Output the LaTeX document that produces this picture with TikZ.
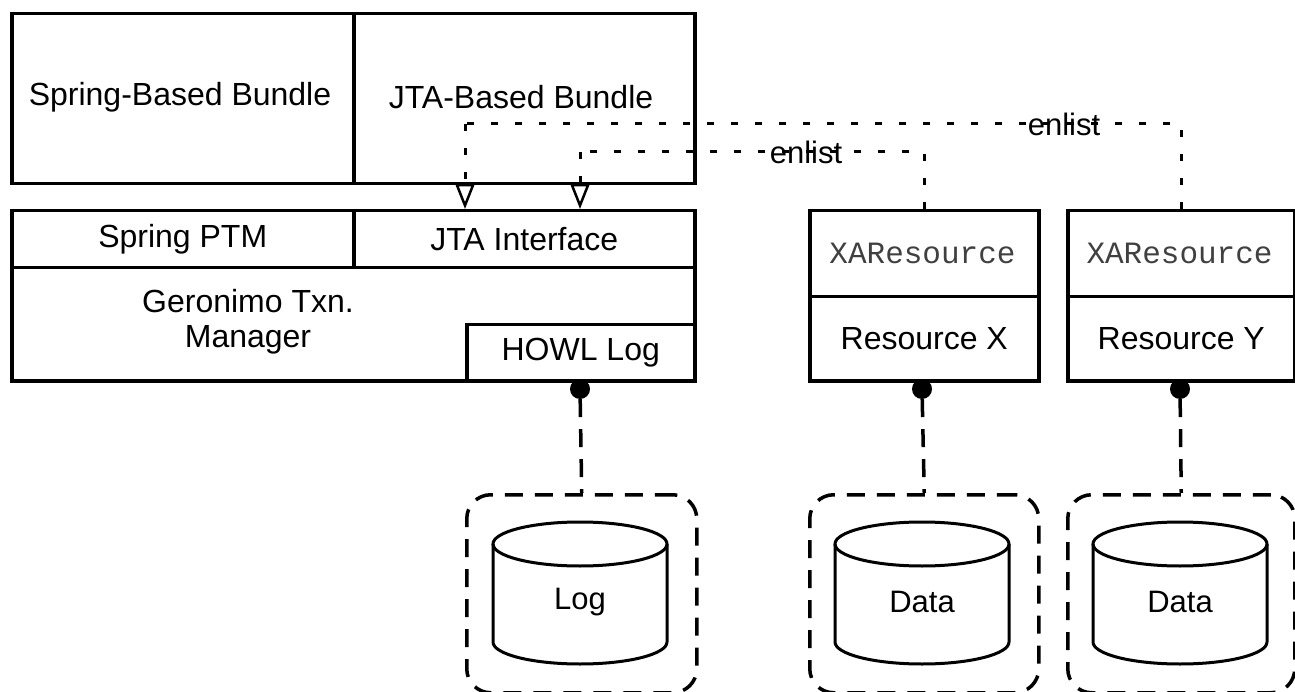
\documentclass[tikz,border=0pt]{standalone}
\usepackage{fontspec}
\setmainfont{Liberation Sans}
\newfontfamily\monof{Liberation Mono}
\usetikzlibrary{arrows.meta,calc}
\begin{document}
\begin{tikzpicture}[x=1pt,y=-1pt,
  box/.style={draw,line width=3.5pt,inner sep=0pt,anchor=north west,font=\fontsize{32}{37}\selectfont},
  dashbox/.style={draw,line width=3.5pt,dash pattern=on 18pt off 12pt,rounded corners=24pt,inner sep=0pt,anchor=north west},
  dotn/.style={circle,fill=black,inner sep=0pt,minimum size=20pt},
  enl/.style={line width=3pt,dash pattern=on 7pt off 17pt},
  opentip/.style={-{Triangle[open,width=19pt,length=25pt,line width=2.5pt]}},
  stor/.style={line width=3.5pt,dash pattern=on 18pt off 12pt},
  cyl/.style={line width=3pt},
  lbl/.style={font=\fontsize{31}{36}\selectfont,inner sep=0pt},
  monolbl/.style={font=\monof\fontsize{31}{35}\selectfont,text=black!75,inner sep=0pt},
  txt/.style={font=\fontsize{32}{37}\selectfont,inner sep=0pt,align=center}
]
\useasboundingbox (0,0) rectangle (1295,692);
% top bundles
\node[box,minimum width=342pt,minimum height=170pt] (springb) at (10,12) {};
\node[box,minimum width=341pt,minimum height=170pt] (jtab) at (352,12) {};
\node[txt] (springbt) at (180,97) {Spring-Based Bundle};
\node[txt] (jtabt) at (521,97) {JTA-Based Bundle};
% middle block
\node[box,minimum width=342pt,minimum height=57pt] (sptm) at (10,209) {Spring PTM};
\node[box,minimum width=341pt,minimum height=57pt] (jtai) at (352,209) {JTA Interface};
\node[box,minimum width=683pt,minimum height=113pt] (gtm) at (10,266) {};
\node[txt] (gtmt) at (248,322) {Geronimo Txn.\\[-2pt]Manager};
\node[box,minimum width=228pt,minimum height=56pt] (howl) at (465,323) {HOWL Log};
% resources
\node[box,minimum width=229pt,minimum height=86pt] (xax) at (808,209) {};
\node[box,minimum width=229pt,minimum height=84pt] (rx) at (808,295) {Resource X};
\node[monolbl] (xaxt) at (922.5,253) {XAResource};
\node[box,minimum width=227pt,minimum height=86pt] (xay) at (1066,209) {};
\node[box,minimum width=227pt,minimum height=84pt] (ry) at (1066,295) {Resource Y};
\node[monolbl] (xayt) at (1179.5,253) {XAResource};
% arrow targets
\coordinate (in1) at (580,209);
\coordinate (in2) at (465,209);
% enlist connectors
\draw[enl] (xax.north) |- ([yshift=57pt]in1);
\draw[enl,opentip] ([yshift=57pt]in1) -- (in1);
\draw[enl] (xay.north) |- ([yshift=85pt]in2);
\draw[enl,opentip] ([yshift=85pt]in2) -- (in2);
\node[lbl] (en1) at (806,152) {enlist};
\node[lbl] (en2) at (1064,124) {enlist};
% dots
\node[dotn] (d1) at (580,389) {};
\node[dotn] (d2) at (922,389) {};
\node[dotn] (d3) at (1180,389) {};
% storage boxes
\node[dashbox,minimum width=230pt,minimum height=198pt] (sl) at (465,493) {};
\node[dashbox,minimum width=229pt,minimum height=198pt] (sx) at (808,493) {};
\node[dashbox,minimum width=227pt,minimum height=198pt] (sy) at (1066,493) {};
\draw[stor] (d1) -- (sl.north);
\draw[stor] (d2) -- (sx.north);
\draw[stor] (d3) -- (sy.north);
% cylinders
\foreach \cx in {580,922,1180}{
  \draw[cyl] (\cx-87,544) -- (\cx-87,642) arc[start angle=180,end angle=360,x radius=87pt,y radius=22pt] -- (\cx+87,544);
  \draw[cyl] (\cx,544) ellipse[x radius=87pt,y radius=22pt];
}
\node[lbl] (logt) at (580,602) {Log};
\node[lbl] (dxt) at (922,602) {Data};
\node[lbl] (dyt) at (1180,602) {Data};
\end{tikzpicture}
\end{document}
